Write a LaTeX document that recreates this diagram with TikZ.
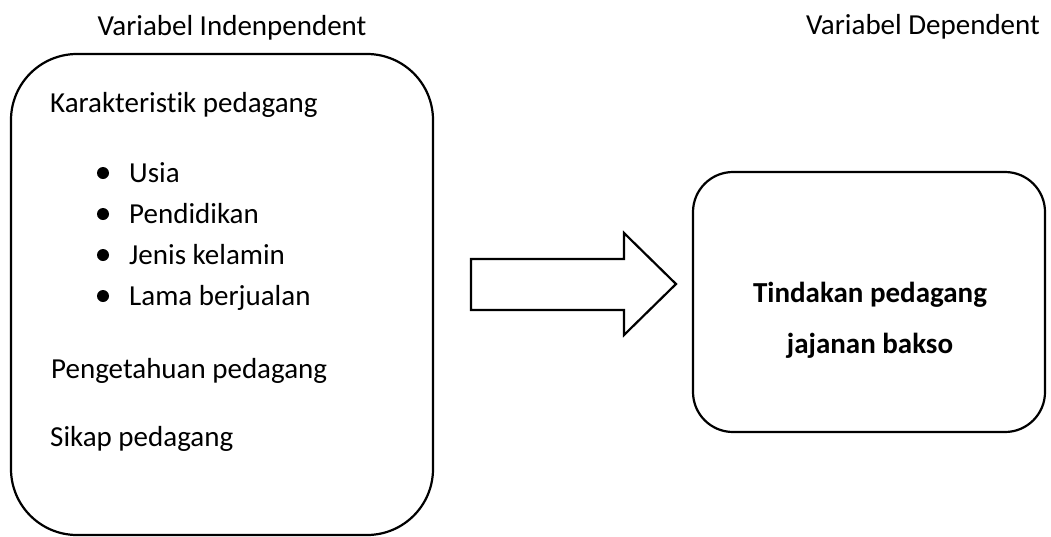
\documentclass[tikz,border=0pt]{standalone}
\usepackage{fontspec}
\setmainfont{Carlito}[Ligatures=NoCommon]
\usepackage{tikz}
\usetikzlibrary{positioning, calc}

\tikzset{
    txt/.style={anchor=base west, inner sep=0pt, font=\fontsize{29}{35}\selectfont},
    head/.style={anchor=base, inner sep=0pt, font=\fontsize{29}{35}\selectfont},
    dot/.style={circle, fill=black, inner sep=0pt, minimum size=12},
    varbox/.style={draw, line width=2.2, rounded corners=#1}
}

\begin{document}
\begin{tikzpicture}[x=1pt, y=-1pt]
\useasboundingbox (0,0) rectangle (1051,536);

% Headings
\node[head] (indep) at (232, 35) {Variabel Indenpendent};
\node[head] (dep) at (923, 34) {Variabel Dependent};

% Independent variables
\draw[varbox=66] (11, 54) rectangle (433, 535);
\node[txt] (karak) at (50, 112) {Karakteristik pedagang};
\foreach \t [count=\i] in {Usia, Pendidikan, Jenis kelamin, Lama berjualan} {
    \node[dot] (b\i) at (103, {182+41*(\i-1)-9}) {};
    \node[txt] (item\i) at (129, {182+41*(\i-1)}) {\t};
}
\node[txt] (penget) at (51, 378) {Pengetahuan pedagang};
\node[txt] (sikap) at (50, 446) {Sikap pedagang};

% Block arrow
\draw[line width=2.2, line join=miter] (471, 259) -- (624, 259) -- (624, 233) -- (676, 284)
    -- (624, 335) -- (624, 310) -- (471, 310) -- cycle;

% Dependent variable
\draw[varbox=40] (693, 172) rectangle (1045, 432);
\node[head, font=\fontsize{29}{35}\selectfont\bfseries] (tind) at (870, 302) {Tindakan pedagang};
\node[head, font=\fontsize{29}{35}\selectfont\bfseries] (jajan) at (870, 353) {jajanan bakso};
\end{tikzpicture}
\end{document}
